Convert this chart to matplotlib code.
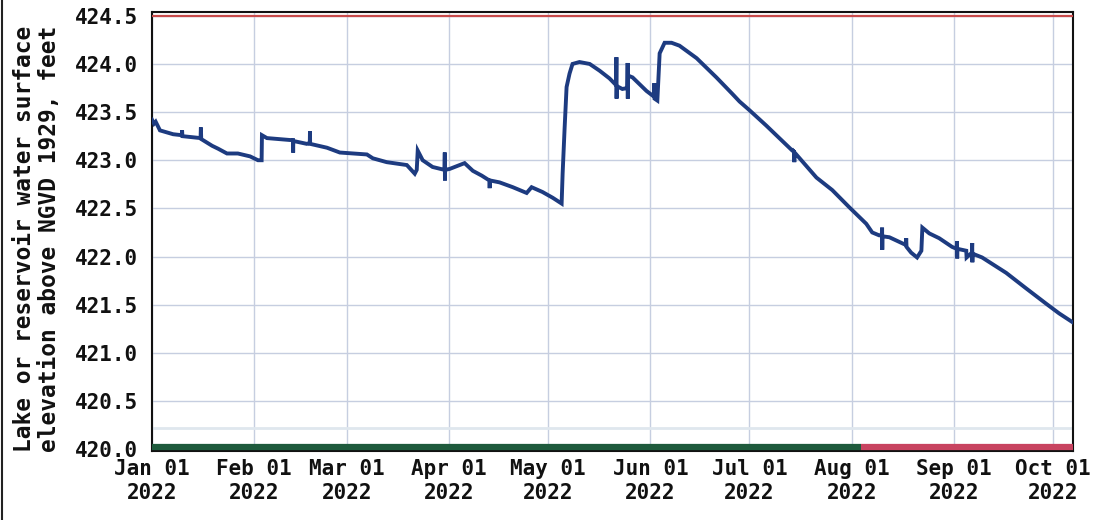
import datetime as dt
import matplotlib
matplotlib.use("Agg")
import matplotlib.pyplot as plt
from matplotlib.lines import Line2D

# days after Jan 01 2022, lake elevation (ft, NGVD 1929)
days = [0.0, 0.6, 1.1, 2.4, 6.4, 9.0, 9.1, 9.2, 14.7, 14.8, 14.9, 18.2, 20.0, 22.7,
        26.0, 29.7, 32.1, 33.2, 33.3, 34.8, 41.8, 42.7, 42.75, 42.8, 46.9, 47.8,
        47.85, 47.9, 53.0, 56.9, 61.0, 65.1, 66.9, 71.1, 77.2, 79.6, 80.2, 80.5,
        82.0, 85.0, 88.6, 88.7, 88.75, 88.8, 90.2, 94.7, 97.2, 99.9, 102.2, 102.3,
        102.4, 105.3, 109.3, 113.5, 115.0, 118.3, 121.4, 124.1, 124.4, 125.0,
        125.6, 126.5, 127.4, 129.5, 132.6, 135.6, 138.6, 140.6, 140.7, 140.75,
        140.8, 142.5, 144.0, 144.1, 144.15, 144.2, 145.6, 149.8, 152.1, 152.2,
        152.25, 153.1, 153.8, 155.3, 157.4, 159.8, 165.0, 171.0, 175.8, 178.0,
        181.0, 186.1, 194.0, 194.5, 194.6, 194.7, 201.3, 206.1, 211.3, 216.4,
        218.2, 220.3, 221.1, 221.2, 221.25, 221.3, 223.4, 228.4, 228.5, 228.6,
        230.0, 231.8, 233.1, 233.4, 235.5, 238.5, 242.4, 243.8, 243.9, 243.95,
        244.0, 246.7, 246.8, 248.4, 248.5, 248.55, 248.6, 251.5, 258.8, 264.8,
        270.9, 274.8, 278.8]
elev = [423.42, 423.38, 423.40, 423.31, 423.27, 423.26, 423.31, 423.25, 423.23, 423.34,
        423.22, 423.15, 423.12, 423.07, 423.07, 423.04, 423.00, 423.00, 423.26,
        423.23, 423.21, 423.21, 423.08, 423.20, 423.17, 423.18, 423.30, 423.17,
        423.13, 423.08, 423.07, 423.06, 423.02, 422.98, 422.95, 422.86, 422.90,
        423.10, 423.00, 422.93, 422.90, 423.08, 422.79, 422.90, 422.91, 422.97,
        422.89, 422.84, 422.79, 422.71, 422.79, 422.77, 422.72, 422.66, 422.72,
        422.67, 422.61, 422.55, 422.86, 423.33, 423.76, 423.90, 424.00, 424.02,
        424.00, 423.93, 423.85, 423.78, 424.07, 423.64, 423.77, 423.74, 423.75,
        424.01, 423.64, 423.88, 423.86, 423.72, 423.66, 423.80, 423.64, 423.62,
        424.11, 424.22, 424.22, 424.19, 424.06, 423.86, 423.69, 423.61, 423.52,
        423.36, 423.10, 423.09, 422.98, 423.08, 422.82, 422.69, 422.51, 422.34,
        422.25, 422.22, 422.22, 422.30, 422.07, 422.21, 422.20, 422.12, 422.19,
        422.10, 422.04, 421.99, 422.06, 422.30, 422.24, 422.19, 422.10, 422.08,
        422.16, 421.98, 422.08, 422.06, 421.99, 422.04, 422.14, 421.94, 422.03,
        421.99, 421.83, 421.67, 421.51, 421.41, 421.32]

start = dt.datetime(2022, 1, 1)
end_day = 279.0
approved_until = 214.9   # green (approved) / red (provisional) split
y_ticks = [420.0, 420.5, 421.0, 421.5, 422.0, 422.5, 423.0, 423.5, 424.0, 424.5]
month_ticks = [dt.datetime(2022, m, 1) for m in range(1, 11)]

font = "DejaVu Sans Mono"
dates = [start + dt.timedelta(days=d) for d in days]

fig = plt.figure(figsize=(10.97, 5.2), dpi=100)
ax = fig.add_axes([0.1386, 0.1327, 0.978 - 0.1386, 0.977 - 0.1327])

ax.grid(True, color="#c6cee0", lw=1.0)
ax.set_axisbelow(True)
ax.axhline(420.22, color="#dfe7ee", lw=2.0, zorder=1)
ax.axhline(424.5, color="#c84a4a", lw=1.6, zorder=3)

ax.plot(dates, elev, color="#1d3b80", lw=2.8, zorder=4, solid_joinstyle="miter")

bar_y = 420.025
ax.plot([start, start + dt.timedelta(days=approved_until)], [bar_y, bar_y],
        color="#1e5a3c", lw=4.5, solid_capstyle="butt", zorder=5)
ax.plot([start + dt.timedelta(days=approved_until), start + dt.timedelta(days=end_day)],
        [bar_y, bar_y], color="#c84360", lw=4.5, solid_capstyle="butt", zorder=5)

ax.set_xlim(start, start + dt.timedelta(days=end_day))
ax.set_ylim(419.98, 424.54)
ax.set_yticks(y_ticks)
ax.set_yticklabels(["%.1f" % v for v in y_ticks])
ax.set_xticks(month_ticks)
ax.set_xticklabels([d.strftime("%b %d\n%Y") for d in month_ticks])
ax.tick_params(length=0, labelsize=15, colors="#111111")
ax.tick_params(axis="y", pad=10)
ax.tick_params(axis="x", pad=6)
for lab in ax.get_xticklabels() + ax.get_yticklabels():
    lab.set_family(font)
    lab.set_fontweight("bold")
for sp in ax.spines.values():
    sp.set_color("#111111")
    sp.set_linewidth(1.5)

fig.text(0.034, 0.54, "Lake or reservoir water surface\nelevation above NGVD 1929, feet",
         rotation=90, ha="center", va="center", family=font, fontweight="bold",
         fontsize=16.5, linespacing=1.1, color="#111111")

fig.add_artist(Line2D([0.002, 0.002], [0.0, 1.0], color="#222222", lw=1.5))

fig.savefig("out.png", dpi=100, facecolor="white")
